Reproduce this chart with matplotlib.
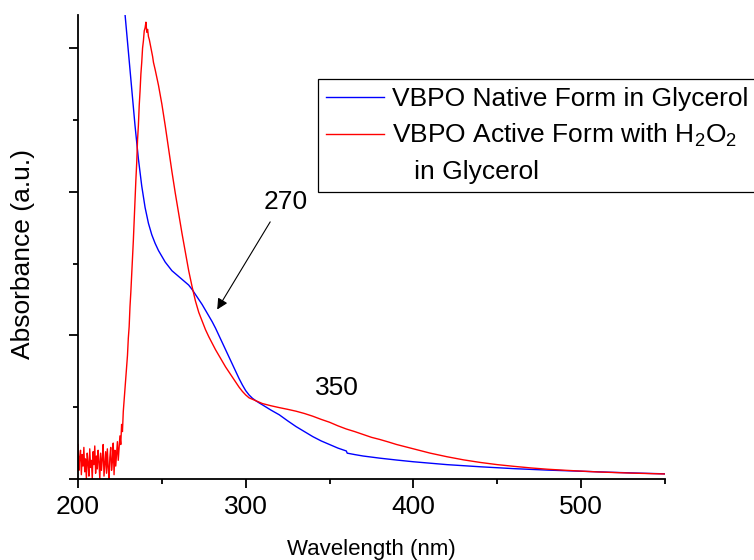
import matplotlib
matplotlib.use("Agg")
import matplotlib.pyplot as plt
from matplotlib.lines import Line2D
from matplotlib.ticker import MultipleLocator, NullFormatter

plt.rcParams["font.family"] = ["Liberation Sans", "DejaVu Sans"]
plt.rcParams["mathtext.fontset"] = "custom"
plt.rcParams["mathtext.rm"] = "Liberation Sans"
plt.rcParams["mathtext.it"] = "Liberation Sans:italic"

# Native enzyme spectrum (wavelength in nm, absorbance in a.u.)
native_wl = [226, 228, 230, 232, 234, 236, 238, 240, 242, 244, 246, 248, 250,
             252, 254, 256, 258, 260, 262, 264, 266, 268, 270, 272, 274, 276,
             278, 280, 282, 284, 286, 288, 290, 292, 294, 296, 298, 300, 302,
             304, 306, 308, 310, 315, 320, 325, 330, 335, 340, 345, 350, 355,
             360, 360.5, 365, 370, 380, 390, 400, 420, 440, 460, 480, 500,
             520, 540, 550]
native_abs = [3.55, 3.24, 2.98, 2.72, 2.46, 2.23, 2.04, 1.89, 1.78, 1.70, 1.64,
              1.59, 1.55, 1.51, 1.48, 1.45, 1.43, 1.41, 1.39, 1.37, 1.35, 1.32,
              1.285, 1.25, 1.215, 1.175, 1.135, 1.095, 1.05, 1.0, 0.95, 0.9,
              0.85, 0.8, 0.75, 0.70, 0.655, 0.615, 0.585, 0.562, 0.545, 0.53,
              0.516, 0.48, 0.447, 0.405, 0.365, 0.33, 0.295, 0.265, 0.24, 0.215,
              0.195, 0.18, 0.17, 0.16, 0.145, 0.132, 0.12, 0.10, 0.085, 0.072,
              0.062, 0.054, 0.046, 0.039, 0.036]

# Active form with H2O2 (noisy below 226 nm where glycerol absorbs)
active_wl = [200.0, 200.5, 201.0, 201.5, 202.0, 202.5, 203.0, 203.5, 204.0,
             204.5, 205.0, 205.5, 206.0, 206.5, 207.0, 207.5, 208.0, 208.5,
             209.0, 209.5, 210.0, 210.5, 211.0, 211.5, 212.0, 212.5, 213.0,
             213.5, 214.0, 214.5, 215.0, 215.5, 216.0, 216.5, 217.0, 217.5,
             218.0, 218.5, 219.0, 219.5, 220.0, 220.5, 221.0, 221.5, 222.0,
             222.5, 223.0, 223.5, 224.0, 224.5, 225.0, 225.5, 226.0, 226.5,
             227.0, 227.5, 228.0, 228.5, 229.0, 229.5, 230.0, 230.5, 231.0,
             231.5, 232.0, 232.5, 233.0, 233.5, 234.0, 234.5, 235.0, 235.5,
             236.0, 236.5, 237.0, 237.5, 238.0, 238.5, 239.0, 239.5, 240.0,
             240.5, 241.0, 241.5, 242.0, 242.5, 243.0, 243.5, 244.0, 244.5,
             245.0, 246, 248, 250, 252, 254, 256, 258, 260, 262, 264, 266,
             268, 270, 272, 274, 276, 278, 280, 282, 284, 286, 288, 290, 292,
             294, 296, 298, 300, 302, 304, 306, 308, 310, 315, 320, 325, 330,
             335, 340, 345, 350, 355, 360, 365, 370, 375, 380, 385, 390, 395,
             400, 410, 420, 430, 440, 450, 460, 470, 480, 490, 500, 510, 520,
             530, 540, 550]
active_abs = [0.24, 0.06, 0.15, 0.20, 0.03, 0.17, 0.09, 0.22, 0.05, 0.14, 0.00,
              0.18, 0.11, 0.02, 0.21, 0.08, 0.13, 0.00, 0.19, 0.10, 0.23, 0.04,
              0.16, 0.07, 0.20, 0.12, 0.00, 0.18, 0.06, 0.14, 0.24, 0.02, 0.11,
              0.19, 0.04, 0.21, 0.08, 0.00, 0.15, 0.22, 0.06, 0.12, 0.25, 0.03,
              0.20, 0.09, 0.17, 0.26, 0.13, 0.21, 0.30, 0.24, 0.38, 0.33, 0.47,
              0.55, 0.62, 0.70, 0.80, 0.86, 0.98, 1.06, 1.20, 1.30, 1.42, 1.55,
              1.66, 1.80, 1.93, 2.08, 2.20, 2.36, 2.46, 2.60, 2.70, 2.82, 2.90,
              3.00, 3.05, 3.12, 3.14, 3.18, 3.11, 3.13, 3.08, 3.06, 3.03, 3.00,
              2.97, 2.94, 2.90, 2.85, 2.74, 2.61, 2.46, 2.30, 2.14, 1.99, 1.85,
              1.71, 1.58, 1.45, 1.34, 1.24, 1.16, 1.10, 1.04, 0.99, 0.945, 0.90,
              0.86, 0.82, 0.78, 0.745, 0.71, 0.675, 0.64, 0.61, 0.585, 0.565,
              0.555, 0.545, 0.535, 0.525, 0.51, 0.497, 0.485, 0.472, 0.456,
              0.437, 0.415, 0.395, 0.37, 0.348, 0.33, 0.31, 0.29, 0.275, 0.258,
              0.24, 0.225, 0.21, 0.18, 0.155, 0.133, 0.115, 0.10, 0.088, 0.077,
              0.068, 0.061, 0.055, 0.049, 0.045, 0.041, 0.038, 0.035]

series_labels = ["VBPO Native Form in Glycerol",
                 "VBPO Active Form with H$_2$O$_2$",
                 "   in Glycerol"]
x_ticks = [200, 300, 400, 500]

# Peak annotations: label, label position, arrow tip
peak_270 = ("270", (324, 1.93), (283, 1.18))
peak_350 = ("350", (354.6, 0.63))

fig = plt.figure(figsize=(7.54, 5.60), dpi=100)
ax = fig.add_axes([78 / 754, 1 - 479 / 560, (665 - 78) / 754, (479 - 15) / 560])

ax.plot(native_wl, native_abs, color="#0000ff", lw=1.0)
ax.plot(active_wl, active_abs, color="#ff0000", lw=1.0)

ax.set_xlim(200, 550)
ax.set_ylim(0, 3.23)

for side in ("top", "right"):
    ax.spines[side].set_visible(False)
for side in ("left", "bottom"):
    ax.spines[side].set_linewidth(1.3)

ax.set_xticks(x_ticks)
ax.xaxis.set_minor_locator(MultipleLocator(50))
ax.yaxis.set_major_locator(MultipleLocator(1))
ax.yaxis.set_minor_locator(MultipleLocator(0.5))
ax.yaxis.set_major_formatter(NullFormatter())
ax.tick_params(which="major", length=6.5, width=1.3, direction="out",
               labelsize=19, pad=5)
ax.tick_params(which="minor", length=3.5, width=1.3, direction="out")

fig.text(371.5 / 754, 1 - 555 / 560, "Wavelength (nm)", fontsize=16,
         ha="center", va="baseline")
fig.text(23 / 754, 1 - 254 / 560, "Absorbance (a.u.)", fontsize=19,
         ha="center", va="center", rotation=90)

label, text_pos, tip = peak_270
ax.annotate("", xy=tip, xytext=(314.6, 1.79),
            arrowprops=dict(arrowstyle="-|>", color="black", lw=0.8,
                            mutation_scale=16, shrinkA=0, shrinkB=0))
ax.text(*text_pos, label, fontsize=19, ha="center", va="center")
label, text_pos = peak_350
ax.text(*text_pos, label, fontsize=19, ha="center", va="center")

handles = [Line2D([], [], color="#0000ff", lw=1.0),
           Line2D([], [], color="#ff0000", lw=1.0),
           Line2D([], [], color="none")]
leg = fig.legend(handles, series_labels, loc="upper left",
                 bbox_to_anchor=(318 / 754, 1 - 79 / 560), fontsize=19,
                 frameon=True, fancybox=False, framealpha=1, edgecolor="black",
                 borderpad=0.3, handlelength=2.2, handletextpad=0.3,
                 labelspacing=0.42, borderaxespad=0)
leg.get_frame().set_linewidth(0.9)

fig.savefig("out.png", dpi=100)
